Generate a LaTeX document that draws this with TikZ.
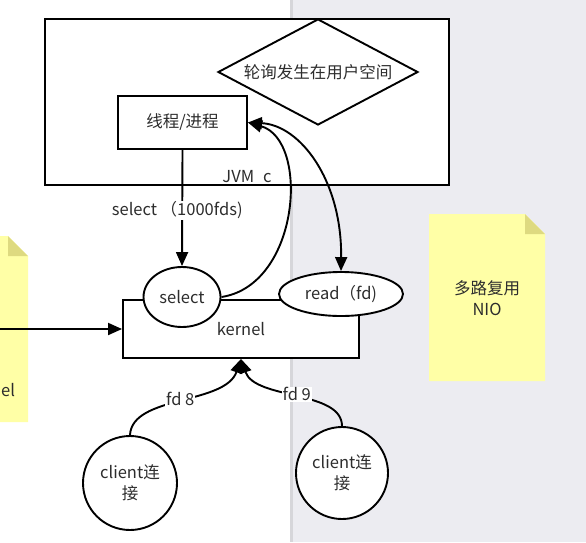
\documentclass[tikz,border=0pt]{standalone}
\usepackage{fontspec}
\setmainfont{Noto Sans CJK SC}
\usetikzlibrary{shapes.geometric,arrows.meta}
\definecolor{bgGray}{RGB}{236,236,241}
\definecolor{bgEdge}{RGB}{214,214,218}
\definecolor{noteY}{RGB}{255,255,166}
\definecolor{noteF}{RGB}{222,218,128}
\definecolor{txt}{RGB}{45,45,45}
\begin{document}
\begin{tikzpicture}[x=1pt,y=-1pt,
  every node/.style={font=\fontsize{16.5}{21}\selectfont, text=txt, align=center},
  box/.style={draw=black, line width=1.9pt, fill=white, inner sep=0pt},
  arr/.style={draw=black, line width=1.9pt, -{Triangle[length=14pt,width=12pt]}},
  arrboth/.style={draw=black, line width=1.9pt, {Triangle[length=14pt,width=12pt]}-{Triangle[length=14pt,width=12pt]}},
  lab/.style={fill=white, inner sep=1pt},
]
\useasboundingbox (0,0) rectangle (586,542);
\fill[white] (0,0) rectangle (586,542);
\fill[bgGray] (290,0) rectangle (586,542);
\fill[bgEdge] (290,0) rectangle (293,542);
% notes
\fill[noteY] (0,236) -- (8,236) -- (28,256) -- (28,422) -- (0,422) -- cycle;
\fill[noteF] (8,236) -- (8,256) -- (28,256) -- cycle;
\node[anchor=west, inner sep=0pt] (elt) at (1,390) {el};
\fill[noteY] (429,214) -- (525,214) -- (545,234) -- (545,381) -- (429,381) -- cycle;
\fill[noteF] (525,214) -- (525,234) -- (545,234) -- cycle;
\node (nio) at (487,298) {多路复用\\NIO};
% JVM box
\node[box, minimum width=404pt, minimum height=166pt] (jvm) at (247,102) {};
\node[diamond, draw=black, line width=1.9pt, inner sep=0pt, aspect=1.89,
      minimum width=200pt, minimum height=106pt] (poll) at (318,72) {轮询发生在用户空间};
\node[box, minimum width=129pt, minimum height=53pt] (th) at (182.5,122.5) {线程/进程};
\node (jvmc) at (247,177) {JVM\hspace{9pt}c};
% kernel
\node[box, minimum width=236pt, minimum height=58pt] (kern) at (241,329) {kernel};
\node[ellipse, box, minimum width=77pt, minimum height=60pt] (sel) at (182,297) {select};
\node[ellipse, box, minimum width=124pt, minimum height=44pt] (rd) at (341,294) {read（fd)};
% clients
\node[circle, box, minimum size=94pt] (c1) at (130,483) {client连\\接};
\node[circle, box, minimum size=92pt] (c2) at (342,473) {client连\\接};
% connectors
\coordinate (lin) at (0,329);
\draw[arr] (lin) -- (kern.west);
\draw[arr] (th.south) -- (sel.north) node[lab, pos=0.52, xshift=-5pt] {select （1000fds)};
\draw[arr] (sel.east) .. controls (300,285) and (310,140) .. (th.east);
\draw[arrboth] (th.east) .. controls (300,125) and (342,180) .. (rd.north);
\draw[arr] (c1.north) .. controls (132,395) and (225,405) .. (kern.south) node[lab, pos=0.5] {fd 8};
\draw[arr] (c2.north) .. controls (342,390) and (255,400) .. (kern.south) node[lab, pos=0.5] {fd 9};
\end{tikzpicture}
\end{document}
